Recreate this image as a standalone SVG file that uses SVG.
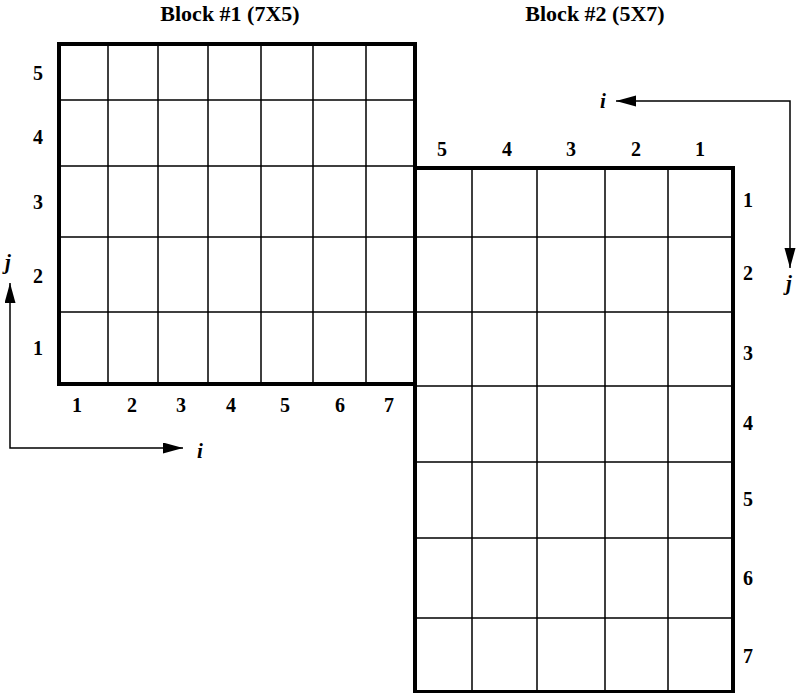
<svg xmlns="http://www.w3.org/2000/svg" width="798" height="693" viewBox="0 0 798 693">
<style>
.bg{fill:#fff}
.grid{stroke:#000;stroke-width:1.5;fill:none}
.border{stroke:#000;stroke-width:4;fill:none}
.axis{stroke:#000;stroke-width:1.5;fill:none}
.lbl{font-family:"Liberation Serif","Times New Roman",serif;font-weight:bold;font-size:20px;text-anchor:middle;fill:#000}
.title{font-family:"Liberation Serif","Times New Roman",serif;font-weight:bold;font-size:22px;text-anchor:middle;fill:#000}
.ax{font-family:"Liberation Serif","Times New Roman",serif;font-weight:bold;font-style:italic;font-size:21px;text-anchor:middle;fill:#000}
</style>
<defs>
<marker id="arr" markerUnits="userSpaceOnUse" markerWidth="21" markerHeight="12" refX="20" refY="5.5" orient="auto-start-reverse">
<path d="M0,0 L20,5.5 L0,11 z" fill="#000"/>
</marker>
</defs>
<rect class="bg" x="0" y="0" width="798" height="693"/>

<g id="block1">
<text class="title" x="230" y="21">Block #1 (7X5)</text>
<g class="grid">
<path d="M108,44V384M158,44V384M208,44V384M261,44V384M313,44V384M366,44V384"/>
<path d="M59,100H415M59,166H415M59,237H415M59,312H415"/>
</g>
<rect class="border" x="59" y="44" width="356" height="340"/>
<g class="lbl">
<text x="38" y="80">5</text>
<text x="38" y="144">4</text>
<text x="38" y="209">3</text>
<text x="38" y="283">2</text>
<text x="38" y="355">1</text>
<text x="77" y="412">1</text>
<text x="132" y="412">2</text>
<text x="181" y="412">3</text>
<text x="231" y="412">4</text>
<text x="285" y="412">5</text>
<text x="340" y="412">6</text>
<text x="389" y="412">7</text>
</g>
</g>

<g id="block2">
<text class="title" x="595" y="21">Block #2 (5X7)</text>
<g class="grid">
<path d="M472,168V692M537,168V692M605,168V692M668,168V692"/>
<path d="M415,237H733M415,312H733M415,386H733M415,462H733M415,538H733M415,618H733"/>
</g>
<rect class="border" x="415" y="168" width="318" height="524"/>
<g class="lbl">
<text x="442" y="156">5</text>
<text x="507" y="156">4</text>
<text x="571" y="156">3</text>
<text x="636" y="156">2</text>
<text x="700" y="156">1</text>
<text x="748" y="207">1</text>
<text x="748" y="280">2</text>
<text x="748" y="360">3</text>
<text x="748" y="430">4</text>
<text x="748" y="506">5</text>
<text x="748" y="585">6</text>
<text x="748" y="663">7</text>
</g>
</g>

<g id="connectors">
<path class="axis" d="M10,283 L10,448 L183,448" marker-start="url(#arr)" marker-end="url(#arr)"/>
<path class="axis" d="M616,101 L790,101 L790,268" marker-start="url(#arr)" marker-end="url(#arr)"/>
</g>

<g id="axis-labels">
<text class="ax" x="8" y="269">j</text>
<text class="ax" x="200" y="458">i</text>
<text class="ax" x="603" y="108">i</text>
<text class="ax" x="789" y="290">j</text>
</g>
</svg>
